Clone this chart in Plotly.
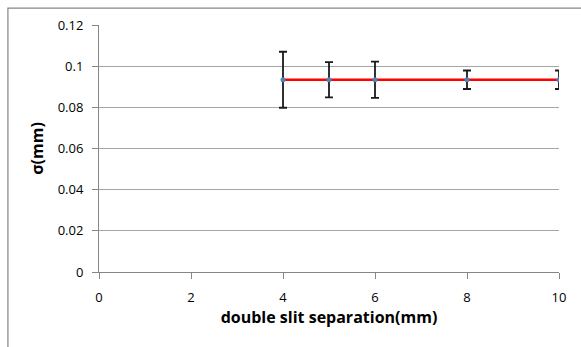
import plotly.graph_objects as go

# Data
separation_mm = [4, 5, 6, 8, 10]
sigma_mm = [0.0934, 0.0934, 0.0934, 0.0934, 0.0934]
sigma_err = [0.0136, 0.0086, 0.0088, 0.0045, 0.0045]
fit_x = [4, 10]
fit_y = [0.0934, 0.0934]

x_ticks = [0, 2, 4, 6, 8, 10]
y_ticks = [0, 0.02, 0.04, 0.06, 0.08, 0.1, 0.12]
y_tick_text = ["0", "0.02", "0.04", "0.06", "0.08", "0.1", "0.12"]

font_family = "Open Sans, Liberation Sans, sans-serif"

fig = go.Figure()
fig.add_trace(go.Scatter(
    x=fit_x, y=fit_y, mode="lines",
    line=dict(color="#ff0000", width=2.5),
    showlegend=False, hoverinfo="skip",
))
fig.add_trace(go.Scatter(
    x=separation_mm, y=sigma_mm, mode="markers",
    marker=dict(color="#4f81bd", size=5),
    error_y=dict(type="data", array=sigma_err, visible=True,
                 color="#1a1a1a", thickness=1.8, width=4),
    showlegend=False,
))

fig.update_layout(
    width=581, height=347,
    margin=dict(l=99, r=22, t=25, b=75),
    paper_bgcolor="white", plot_bgcolor="white",
    font=dict(family=font_family, size=13, color="#000000"),
    xaxis=dict(
        range=[0, 10], tickvals=x_ticks, ticktext=[str(v) for v in x_ticks],
        showgrid=False, zeroline=False,
        showline=True, linecolor="#868686", linewidth=1,
        ticks="outside", ticklen=6, tickcolor="#868686",
        ticklabelstandoff=7,
        tickfont=dict(size=13),
        title=dict(text="<b>double slit separation(mm)</b>", font=dict(size=16), standoff=7),
    ),
    yaxis=dict(
        range=[0, 0.12], tickvals=y_ticks, ticktext=y_tick_text,
        showgrid=True, gridcolor="#a6a6a6", gridwidth=1,
        zeroline=False,
        showline=True, linecolor="#868686", linewidth=1,
        ticks="outside", ticklen=6, tickcolor="#868686",
        ticklabelstandoff=6,
        tickfont=dict(size=13),
        title=dict(text="<b>σ(mm)</b>", font=dict(size=16), standoff=10),
    ),
    shapes=[
        dict(type="rect", xref="paper", yref="paper",
             x0=-0.198, x1=1.3, y0=-0.5, y1=1.068,
             line=dict(color="#868686", width=1.2), fillcolor="rgba(0,0,0,0)",
             layer="below"),
    ],
)

fig.write_html("out.html")
